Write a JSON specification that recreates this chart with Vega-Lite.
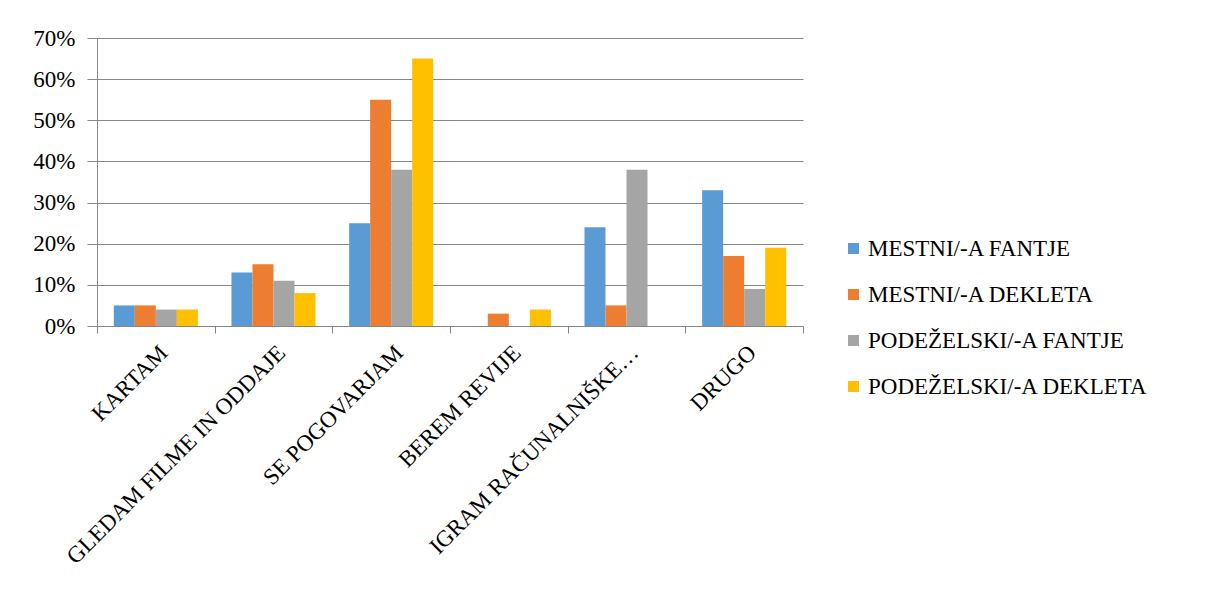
{
  "$schema": "https://vega.github.io/schema/vega-lite/v6.json",
  "autosize": "none",
  "width": 706,
  "height": 288,
  "padding": {"left": 97, "top": 38, "right": 420, "bottom": 290},
  "background": "white",
  "data": {
    "values": [
      {"cat": "KARTAM", "group": "MESTNI/-A FANTJE", "value": 0.05},
      {"cat": "KARTAM", "group": "MESTNI/-A DEKLETA", "value": 0.05},
      {"cat": "KARTAM", "group": "PODEŽELSKI/-A FANTJE", "value": 0.04},
      {"cat": "KARTAM", "group": "PODEŽELSKI/-A DEKLETA", "value": 0.04},
      {"cat": "GLEDAM FILME IN ODDAJE", "group": "MESTNI/-A FANTJE", "value": 0.13},
      {"cat": "GLEDAM FILME IN ODDAJE", "group": "MESTNI/-A DEKLETA", "value": 0.15},
      {"cat": "GLEDAM FILME IN ODDAJE", "group": "PODEŽELSKI/-A FANTJE", "value": 0.11},
      {"cat": "GLEDAM FILME IN ODDAJE", "group": "PODEŽELSKI/-A DEKLETA", "value": 0.08},
      {"cat": "SE POGOVARJAM", "group": "MESTNI/-A FANTJE", "value": 0.25},
      {"cat": "SE POGOVARJAM", "group": "MESTNI/-A DEKLETA", "value": 0.55},
      {"cat": "SE POGOVARJAM", "group": "PODEŽELSKI/-A FANTJE", "value": 0.38},
      {"cat": "SE POGOVARJAM", "group": "PODEŽELSKI/-A DEKLETA", "value": 0.65},
      {"cat": "BEREM REVIJE", "group": "MESTNI/-A FANTJE", "value": 0},
      {"cat": "BEREM REVIJE", "group": "MESTNI/-A DEKLETA", "value": 0.03},
      {"cat": "BEREM REVIJE", "group": "PODEŽELSKI/-A FANTJE", "value": 0},
      {"cat": "BEREM REVIJE", "group": "PODEŽELSKI/-A DEKLETA", "value": 0.04},
      {"cat": "IGRAM RAČUNALNIŠKE…", "group": "MESTNI/-A FANTJE", "value": 0.24},
      {"cat": "IGRAM RAČUNALNIŠKE…", "group": "MESTNI/-A DEKLETA", "value": 0.05},
      {"cat": "IGRAM RAČUNALNIŠKE…", "group": "PODEŽELSKI/-A FANTJE", "value": 0.38},
      {"cat": "IGRAM RAČUNALNIŠKE…", "group": "PODEŽELSKI/-A DEKLETA", "value": 0},
      {"cat": "DRUGO", "group": "MESTNI/-A FANTJE", "value": 0.33},
      {"cat": "DRUGO", "group": "MESTNI/-A DEKLETA", "value": 0.17},
      {"cat": "DRUGO", "group": "PODEŽELSKI/-A FANTJE", "value": 0.09},
      {"cat": "DRUGO", "group": "PODEŽELSKI/-A DEKLETA", "value": 0.19}
    ]
  },
  "mark": {"type": "bar"},
  "encoding": {
    "x": {
      "field": "cat",
      "type": "nominal",
      "sort": null,
      "scale": {"paddingInner": 0, "paddingOuter": 0},
      "axis": {
        "title": null,
        "labelAngle": -45,
        "labelAlign": "right",
        "labelBaseline": "top",
        "labelFont": "Liberation Serif",
        "labelFontSize": 23,
        "labelColor": "black",
        "labelLimit": 500,
        "labelPadding": 8,
        "labelOverlap": false,
        "tickBand": "extent",
        "tickSize": 7,
        "tickColor": "#868686",
        "domainColor": "#868686",
        "grid": false
      }
    },
    "xOffset": {
      "field": "group",
      "type": "nominal",
      "sort": null,
      "scale": {"paddingInner": 0, "paddingOuter": 0.8}
    },
    "y": {
      "field": "value",
      "type": "quantitative",
      "scale": {"domain": [0, 0.7], "nice": false},
      "axis": {
        "title": null,
        "format": "0%",
        "values": [0, 0.1, 0.2, 0.3, 0.4, 0.5, 0.6, 0.7],
        "labelFont": "Liberation Serif",
        "labelFontSize": 23,
        "labelColor": "black",
        "labelPadding": 12,
        "tickSize": 10,
        "tickColor": "#868686",
        "domainColor": "#868686",
        "gridColor": "#868686",
        "gridWidth": 1
      }
    },
    "color": {
      "field": "group",
      "type": "nominal",
      "sort": null,
      "scale": {
        "domain": ["MESTNI/-A FANTJE", "MESTNI/-A DEKLETA", "PODEŽELSKI/-A FANTJE", "PODEŽELSKI/-A DEKLETA"],
        "range": ["#5B9BD5", "#ED7D31", "#A5A5A5", "#FFC000"]
      },
      "legend": {
        "title": null,
        "orient": "none",
        "legendX": 745,
        "legendY": 199,
        "symbolType": "square",
        "symbolSize": 121,
        "symbolStrokeWidth": 0,
        "labelFont": "Liberation Serif",
        "labelFontSize": 23,
        "labelColor": "black",
        "labelOffset": 3,
        "labelLimit": 500,
        "rowPadding": 22
      }
    }
  },
  "config": {
    "view": {"stroke": null}
  }
}
